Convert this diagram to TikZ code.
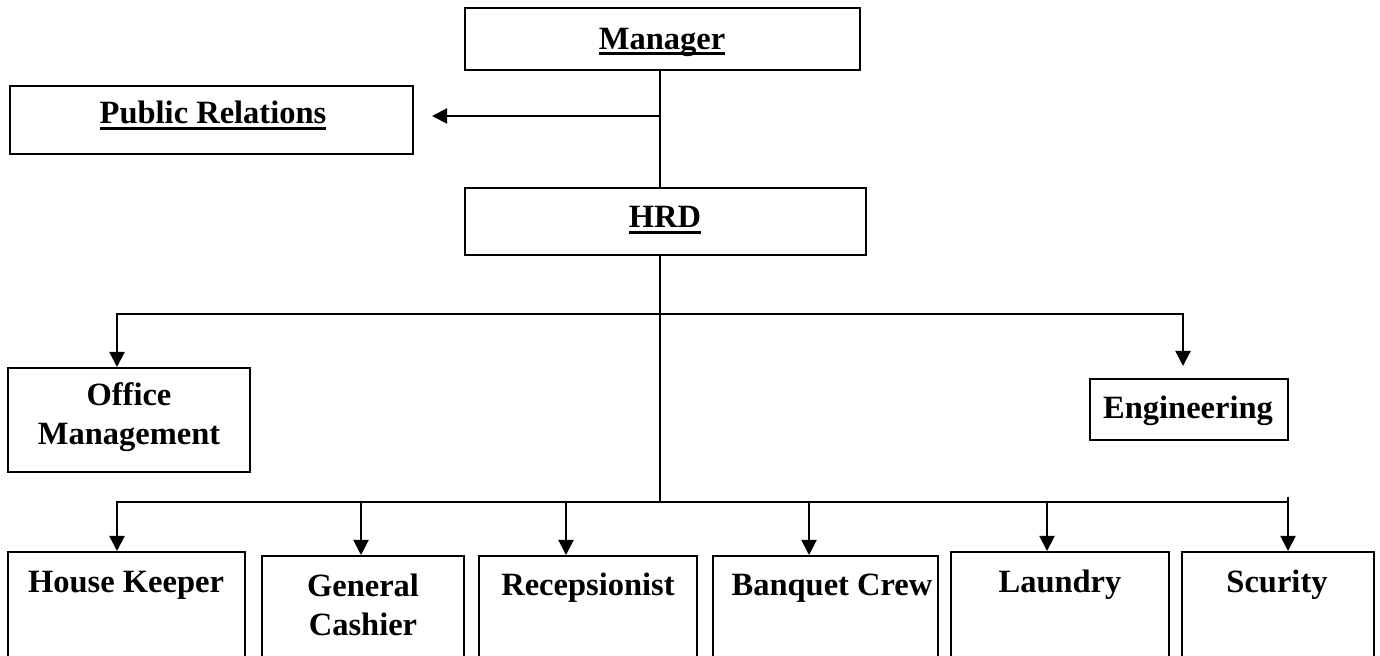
\documentclass[tikz,border=0pt]{standalone}
\usepackage{fontspec}
\setmainfont{Liberation Serif}
\usetikzlibrary{arrows.meta,calc}
\newcommand\myul[1]{\leavevmode\setbox0\hbox{#1}\rlap{\rule[-2.9pt]{\wd0}{1.4pt}}\box0}
\tikzset{
  bx/.style 2 args={draw, line width=1pt, minimum width=#1*0.5pt, minimum height=#2*0.5pt, inner sep=0pt},
  lbl/.style={anchor=base, inner sep=0pt, align=center, font=\fontsize{16.25}{19.5}\selectfont\bfseries},
  conn/.style={line width=1pt},
  arr/.style={line width=1pt, -{Triangle[width=7.5pt,length=7.5pt]}}
}
\begin{document}
\begin{tikzpicture}[x=0.5pt,y=-0.5pt]
\useasboundingbox (0,0) rectangle (1380,656);
\clip (0,0) rectangle (1380,656);
% boxes
\node[bx={395}{62}] (mgr) at (662.5,39) {};
\node[bx={403}{68}] (pr) at (211.5,120) {};
\node[bx={401}{67}] (hrd) at (665.5,221.5) {};
\node[bx={242}{104}] (om) at (129,420) {};
\node[bx={198}{61}] (eng) at (1189,409.5) {};
\node[bx={237}{118}] (hk) at (126.5,611) {};
\node[bx={202}{114}] (gc) at (363,613) {};
\node[bx={218}{114}] (rc) at (588,613) {};
\node[bx={225}{114}] (bc) at (825.5,613) {};
\node[bx={218}{118}] (la) at (1060,611) {};
\node[bx={192}{118}] (sc) at (1278,611) {};
% labels
\node[lbl] (mgrt) at (662,49.5) {\myul{Manager}};
\node[lbl] (prt) at (213,124) {\myul{Public Relations}};
\node[lbl] (hrdt) at (665,228) {\myul{HRD}};
\node[lbl] (omt) at (129,445) {Office\\Management};
\node[lbl] (engt) at (1188,419) {Engineering};
\node[lbl] (hkt) at (126,593) {House Keeper};
\node[lbl] (gct) at (363,635) {General\\Cashier};
\node[lbl] (rct) at (588,596) {Recepsionist};
\node[lbl] (bct) at (832,596) {Banquet Crew};
\node[lbl] (lat) at (1060,593) {Laundry};
\node[lbl] (sct) at (1277,593) {Scurity};
% junctions
\coordinate (prj) at (660,116);
\coordinate (j1) at (660,314);
\coordinate (j2) at (660,502);
\coordinate (sctop) at (1288,497);
% connectors
\draw[conn] (mgr.south -| prj) -- (hrd.north -| prj);
\draw[arr] (prj) -- ($(pr.east)+(18,-4)$);
\draw[conn] (hrd.south -| j1) -- (j2);
\draw[arr] (j1) -| ($(om.north)+(-12,0)$);
\draw[arr] (j1) -| ($(eng.north)+(-6,-12)$);
\draw[arr] (j2) -| ($(hk.north)+(-9.5,0)$);
\draw[arr] (j2) -| ($(gc.north)+(-2,0)$);
\draw[arr] (j2) -| ($(rc.north)+(-22,0)$);
\draw[arr] (j2) -| ($(bc.north)+(-16.5,0)$);
\draw[arr] (j2) -| ($(la.north)+(-13,0)$);
\draw[conn] (j2) -- (j2 -| sctop);
\draw[arr] (sctop) -- ($(sc.north)+(10,0)$);
\end{tikzpicture}
\end{document}
